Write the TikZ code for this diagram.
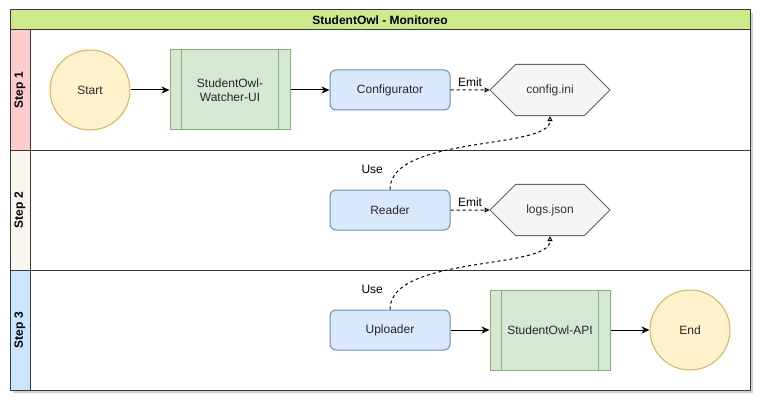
\documentclass[tikz,border=0pt]{standalone}
\usepackage{fontspec}
\setmainfont{Liberation Sans}
\usetikzlibrary{arrows.meta}
\usetikzlibrary{shapes.misc}
\usepackage{xcolor}
\definecolor{poolgreen}{HTML}{CDEB8B}
\definecolor{laneone}{HTML}{FFCCCC}
\definecolor{lanetwo}{HTML}{F9F7ED}
\definecolor{lanethree}{HTML}{CCE5FF}
\definecolor{lanedraw}{HTML}{36393D}
\definecolor{termfill}{HTML}{FFF2CC}
\definecolor{termdraw}{HTML}{D6B656}
\definecolor{procfill}{HTML}{D5E8D4}
\definecolor{procdraw}{HTML}{82B366}
\definecolor{stepfill}{HTML}{DAE8FC}
\definecolor{stepdraw}{HTML}{6C8EBF}
\definecolor{filefill}{HTML}{F5F5F5}
\definecolor{filedraw}{HTML}{666666}
\tikzset{>={Stealth[length=8pt, width=7pt, inset=2.5pt]}}

\begin{document}
\begin{tikzpicture}[x=1pt, y=-1pt, line width=1pt, font=\fontsize{12}{14}\selectfont]
    % term = start/end circle, proc = predefined process, hexfile = data file
    \tikzstyle{term}=[circle, draw=termdraw, fill=termfill, minimum size=80pt, text=black!85]
    \tikzstyle{proc}=[rectangle, draw=procdraw, fill=procfill, minimum width=120pt, minimum height=80pt, align=center, text=black!85]
    \tikzstyle{stepbox}=[rectangle, rounded corners=6pt, draw=stepdraw, fill=stepfill, minimum width=120pt, minimum height=40pt, text=black!85]
    \tikzstyle{hexfile}=[chamfered rectangle, chamfered rectangle xsep=15pt, chamfered rectangle ysep=20pt, draw=filedraw, fill=filefill, minimum width=120pt, minimum height=40pt, inner sep=0pt, text=black!80]
    \tikzstyle{flow}=[black, ->]
    \tikzstyle{emit}=[black, dashed, -{Triangle[open, length=5pt, width=5pt]}]
    \tikzstyle{lanetitle}=[rotate=90, font=\fontsize{12}{14}\selectfont\bfseries]
    \useasboundingbox (0,0) rectangle (772,412);

    % pool and lanes
    \fill[black!18] (13,13) rectangle (753,393);
    \draw[lanedraw, fill=white] (10,10) rectangle (750,390);
    \draw[lanedraw, fill=poolgreen] (10,10) rectangle (750,30);
    \node (pool) at (380,20) {\bfseries StudentOwl - Monitoreo};
    \draw[lanedraw, fill=laneone] (10,30) rectangle (30,150);
    \draw[lanedraw, fill=lanetwo] (10,150) rectangle (30,270);
    \draw[lanedraw, fill=lanethree] (10,270) rectangle (30,390);
    \draw[lanedraw] (30,30) rectangle (750,150);
    \draw[lanedraw] (30,150) rectangle (750,270);
    \draw[lanedraw] (30,270) rectangle (750,390);
    \node[lanetitle] (laneA) at (20,90) {Step 1};
    \node[lanetitle] (laneB) at (20,210) {Step 2};
    \node[lanetitle] (laneC) at (20,330) {Step 3};

    % step 1
    \node[term] (start) at (90,90) {Start};
    \node[proc] (watcher) [right of=start, node distance=140pt] {StudentOwl-\\Watcher-UI};
    \draw[procdraw] ([xshift=12pt]watcher.north west) -- ([xshift=12pt]watcher.south west);
    \draw[procdraw] ([xshift=-12pt]watcher.north east) -- ([xshift=-12pt]watcher.south east);
    \node[stepbox] (config) [right of=watcher, node distance=160pt] {Configurator};
    \node[hexfile] (ini) [right of=config, node distance=160pt] {config.ini};
    \draw[flow] (start) -- (watcher);
    \draw[flow] (watcher) -- (config);
    \draw[emit] (config) -- node[above] {Emit} (ini);

    % step 2
    \node[stepbox] (reader) [below of=config, node distance=120pt] {Reader};
    \node[hexfile] (logs) [below of=ini, node distance=120pt] {logs.json};
    \draw[emit] (reader) -- node[above] {Emit} (logs);
    \draw[emit] (reader.north) .. controls (390,135) and (550,150) .. (ini.south)
        node[pos=0.15, left=13pt] {Use};

    % step 3
    \node[stepbox] (uploader) [below of=reader, node distance=120pt] {Uploader};
    \node[proc] (api) [right of=uploader, node distance=160pt] {StudentOwl-API};
    \draw[procdraw] ([xshift=12pt]api.north west) -- ([xshift=12pt]api.south west);
    \draw[procdraw] ([xshift=-12pt]api.north east) -- ([xshift=-12pt]api.south east);
    \node[term] (finish) [right of=api, node distance=140pt] {End};
    \draw[flow] (uploader) -- (api);
    \draw[flow] (api) -- (finish);
    \draw[emit] (uploader.north) .. controls (390,255) and (550,270) .. (logs.south)
        node[pos=0.15, left=13pt] {Use};
\end{tikzpicture}
\end{document}
